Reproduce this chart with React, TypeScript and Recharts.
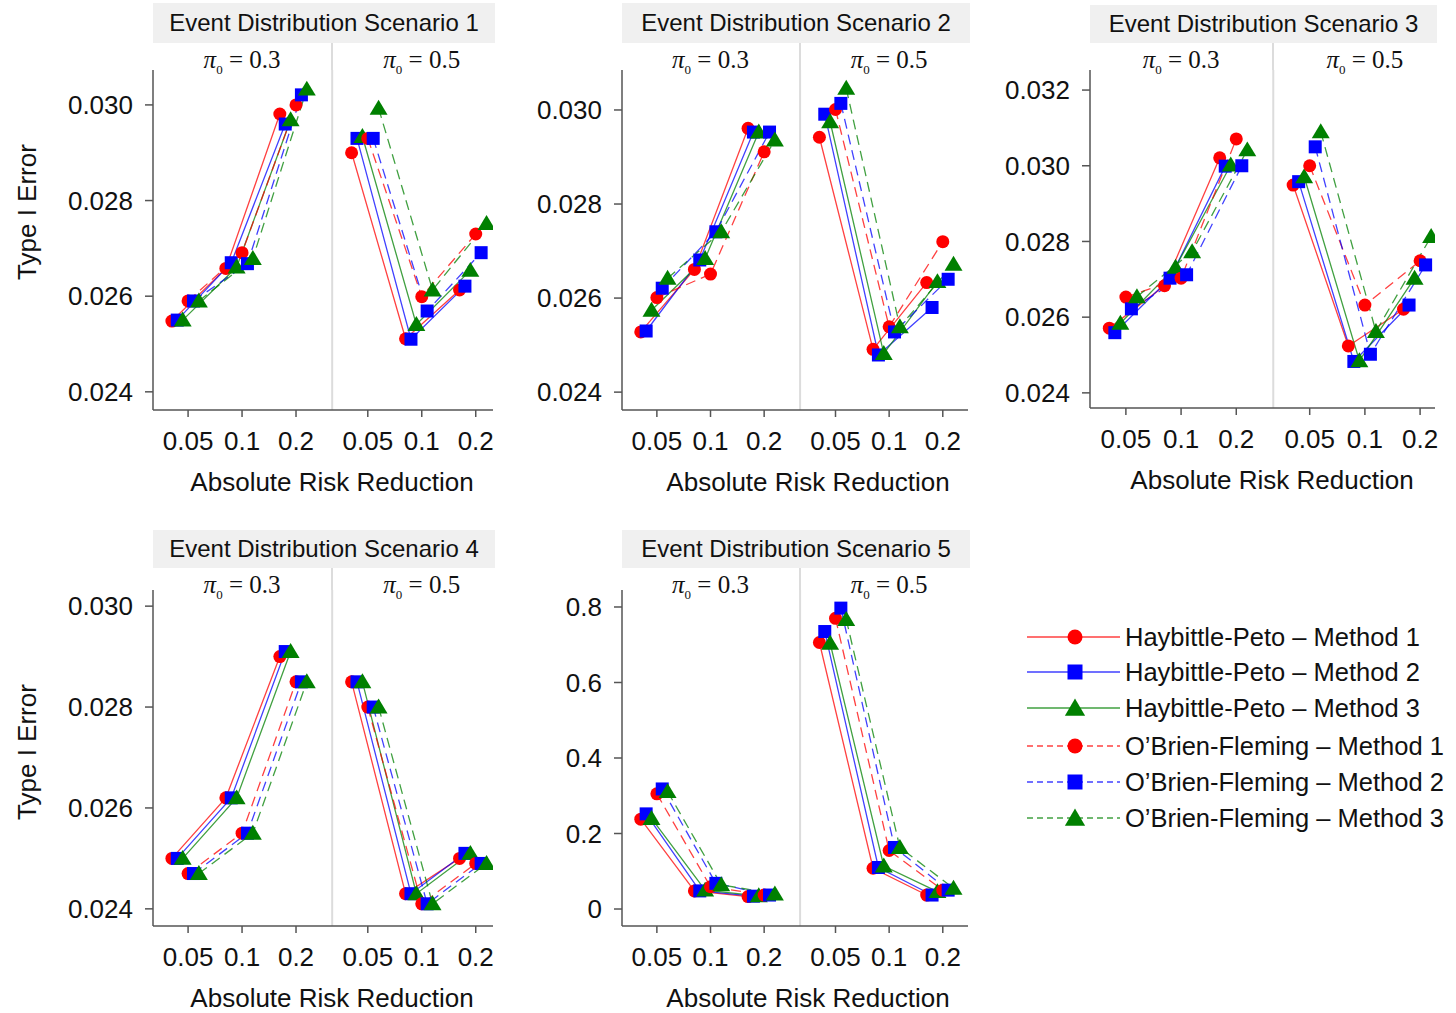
import React from 'react';
import { LineChart, Line, XAxis, YAxis, ReferenceLine } from 'recharts';

// absolute risk reduction tick labels, repeated for pi0 = 0.3 and pi0 = 0.5
const ARR_LABELS = ['0.05', '0.1', '0.2'];
const PI0_LABELS = ['0.3', '0.5'];
const SCENARIO_TITLES = [
  'Event Distribution Scenario 1',
  'Event Distribution Scenario 2',
  'Event Distribution Scenario 3',
  'Event Distribution Scenario 4',
  'Event Distribution Scenario 5',
];

const SERIES = [
  { name: 'Haybittle-Peto \u2013 Method 1', color: '#ff0000', dashed: false, shape: 'circle' },
  { name: 'Haybittle-Peto \u2013 Method 2', color: '#0000ff', dashed: false, shape: 'square' },
  { name: 'Haybittle-Peto \u2013 Method 3', color: '#008000', dashed: false, shape: 'triangle' },
  { name: 'O\u2019Brien-Fleming \u2013 Method 1', color: '#ff0000', dashed: true, shape: 'circle' },
  { name: 'O\u2019Brien-Fleming \u2013 Method 2', color: '#0000ff', dashed: true, shape: 'square' },
  { name: 'O\u2019Brien-Fleming \u2013 Method 3', color: '#008000', dashed: true, shape: 'triangle' },
];

// each row = one series: [pi0=0.3: 0.05, 0.1, 0.2, pi0=0.5: 0.05, 0.1, 0.2]
const scenario1 = [
  [0.02548, 0.02658, 0.02981, 0.02900, 0.02511, 0.02613],
  [0.02550, 0.02670, 0.02960, 0.02930, 0.02510, 0.02621],
  [0.02550, 0.02661, 0.02969, 0.02934, 0.02541, 0.02654],
  [0.02590, 0.02691, 0.03000, 0.02930, 0.02599, 0.02730],
  [0.02590, 0.02668, 0.03021, 0.02930, 0.02569, 0.02691],
  [0.02590, 0.02679, 0.03033, 0.02993, 0.02613, 0.02752],
];
const scenario2 = [
  [0.02528, 0.02661, 0.02961, 0.02942, 0.02491, 0.02633],
  [0.02530, 0.02681, 0.02953, 0.02991, 0.02479, 0.02580],
  [0.02574, 0.02684, 0.02953, 0.02975, 0.02482, 0.02635],
  [0.02601, 0.02651, 0.02911, 0.03001, 0.02539, 0.02720],
  [0.02621, 0.02741, 0.02953, 0.03014, 0.02528, 0.02640],
  [0.02642, 0.02741, 0.02936, 0.03046, 0.02539, 0.02672],
];
const scenario3 = [
  [0.02571, 0.02683, 0.03021, 0.02949, 0.02524, 0.02621],
  [0.02559, 0.02703, 0.02999, 0.02958, 0.02483, 0.02632],
  [0.02584, 0.02732, 0.03002, 0.02971, 0.02485, 0.02703],
  [0.02653, 0.02703, 0.03071, 0.03000, 0.02632, 0.02749],
  [0.02622, 0.02712, 0.03000, 0.03050, 0.02502, 0.02738],
  [0.02654, 0.02773, 0.03042, 0.03090, 0.02562, 0.02813],
];
const scenario4 = [
  [0.0250, 0.0262, 0.0290, 0.0285, 0.0243, 0.0250],
  [0.0250, 0.0262, 0.0291, 0.0285, 0.0243, 0.0251],
  [0.0250, 0.0262, 0.0291, 0.0285, 0.0243, 0.0251],
  [0.0247, 0.0255, 0.0285, 0.0280, 0.0241, 0.0249],
  [0.0247, 0.0255, 0.0285, 0.0280, 0.0241, 0.0249],
  [0.0247, 0.0255, 0.0285, 0.0280, 0.0241, 0.0249],
];
const scenario5 = [
  [0.238, 0.048, 0.033, 0.706, 0.108, 0.037],
  [0.252, 0.048, 0.034, 0.735, 0.110, 0.037],
  [0.240, 0.050, 0.035, 0.704, 0.114, 0.046],
  [0.305, 0.059, 0.037, 0.770, 0.155, 0.050],
  [0.318, 0.068, 0.037, 0.797, 0.163, 0.050],
  [0.311, 0.064, 0.040, 0.767, 0.163, 0.055],
];

const ticksSmall = [0.024, 0.026, 0.028, 0.03];
const ticksS3 = [0.024, 0.026, 0.028, 0.03, 0.032];
const ticksS5 = [0, 0.2, 0.4, 0.6, 0.8];

// x positions in "slot" units; the gap between the two pi0 groups holds the divider
const X_TICKS = [0, 1, 2, 3.33, 4.33, 5.33];
const DIVIDER = 2.67;
const X_MIN = -0.65;
const OFFSETS = [-0.3, -0.2, -0.1, 0, 0.1, 0.2];

const YW = 140;
const MT = 14;
const MR = 14;
const XH = 95;
const FONT = '"Liberation Sans", Arial, sans-serif';

const PANELS = [
  { values: scenario1, yTicks: ticksSmall, yDomain: [0.02362, 0.03073], axisX: 153, right: 493, xMax: 5.65, top: 70, bottom: 410, hTop: 3, hBottom: 43, titleX: 332, fmt: 3 },
  { values: scenario2, yTicks: ticksSmall, yDomain: [0.02362, 0.03085], axisX: 622, right: 968, xMax: 5.8, top: 70, bottom: 410, hTop: 3, hBottom: 43, titleX: 808, fmt: 3 },
  { values: scenario3, yTicks: ticksS3, yDomain: [0.0236, 0.03253], axisX: 1090, right: 1435, xMax: 5.6, top: 70, bottom: 408, hTop: 5, hBottom: 43, titleX: 1272, fmt: 3 },
  { values: scenario4, yTicks: ticksSmall, yDomain: [0.02366, 0.03032], axisX: 153, right: 493, xMax: 5.65, top: 590, bottom: 926, hTop: 530, hBottom: 568, titleX: 332, fmt: 3 },
  { values: scenario5, yTicks: ticksS5, yDomain: [-0.045, 0.845], axisX: 622, right: 968, xMax: 5.8, top: 590, bottom: 926, hTop: 530, hBottom: 568, titleX: 808, fmt: 1 },
];

function Marker({ cx, cy, shape, color, r = 6.5 }: any) {
  if (shape === 'circle') return <circle cx={cx} cy={cy} r={r} fill={color} />;
  if (shape === 'square') return <rect x={cx - r} y={cy - r} width={2 * r} height={2 * r} fill={color} />;
  const h = r * 1.15;
  return <polygon points={`${cx},${cy - h - 1} ${cx + h + 1.5},${cy + h - 1} ${cx - h - 1.5},${cy + h - 1}`} fill={color} />;
}

function toPx(p: any, x: number) {
  return p.axisX + ((x - X_MIN) / (p.xMax - X_MIN)) * (p.right - p.axisX);
}

function Panel({ p, idx }: any) {
  const W = YW + (p.right - p.axisX) + MR;
  const H = MT + (p.bottom - p.top) + XH;
  const seriesData = SERIES.map((s, si) => {
    const pts: any[] = [];
    p.values[si].forEach((v: number, i: number) => {
      if (i === 3) pts.push({ x: DIVIDER, y: null });
      pts.push({ x: X_TICKS[i] + OFFSETS[si], y: v });
    });
    return pts;
  });
  const divX = toPx(p, DIVIDER);
  return (
    <>
      <div style={{ position: 'absolute', left: p.axisX, top: p.hTop, width: p.right - p.axisX + 2, height: p.hBottom - p.hTop, background: '#f0f0f0', display: 'flex', alignItems: 'center', justifyContent: 'center', fontSize: 24, color: '#111' }}>
        {SCENARIO_TITLES[idx]}
      </div>
      <div style={{ position: 'absolute', left: divX - 1, top: p.hBottom, width: 2, height: p.top - p.hBottom, background: '#dcdcdc' }} />
      {PI0_LABELS.map((lab, k) => (
        <div key={lab} style={{ position: 'absolute', left: toPx(p, X_TICKS[k * 3 + 1]), top: p.hBottom + 18, transform: 'translate(-50%, -50%)', fontFamily: '"Liberation Serif", "Times New Roman", serif', fontSize: 25, whiteSpace: 'nowrap', color: '#111', lineHeight: 1 }}>
          <i>π</i><sub style={{ fontSize: 13 }}>0</sub>&nbsp;= {lab}
        </div>
      ))}
      <div style={{ position: 'absolute', left: p.axisX - YW, top: p.top - MT }}>
        <LineChart width={W} height={H} margin={{ top: MT, right: MR, bottom: 0, left: 0 }}>
          <XAxis
            type="number"
            dataKey="x"
            domain={[X_MIN, p.xMax]}
            allowDataOverflow
            ticks={X_TICKS}
            interval={0}
            tickFormatter={(v: number) => {
              let best = 0;
              X_TICKS.forEach((t, i) => { if (Math.abs(t - v) < Math.abs(X_TICKS[best] - v)) best = i; });
              return ARR_LABELS[best % 3];
            }}
            height={XH}
            stroke="#555"
            strokeWidth={1.5}
            tickSize={7}
            tickMargin={15}
            tick={{ fontSize: 26, fill: '#111', fontFamily: FONT }}
          />
          <YAxis
            type="number"
            domain={p.yDomain}
            allowDataOverflow
            ticks={p.yTicks}
            interval={0}
            width={YW}
            tickFormatter={(v: number) => (v === 0 ? '0' : v.toFixed(p.fmt))}
            stroke="#555"
            strokeWidth={1.5}
            tickSize={8}
            tickMargin={12}
            tick={{ fontSize: 26, fill: '#111', fontFamily: FONT }}
          />
          <ReferenceLine x={DIVIDER} stroke="#dcdcdc" strokeWidth={2} />
          {SERIES.map((s, si) => (
            <Line
              key={s.name}
              data={seriesData[si]}
              dataKey="y"
              name={s.name}
              type="linear"
              stroke={s.color}
              strokeOpacity={0.75}
              strokeWidth={1.3}
              strokeDasharray={s.dashed ? '10 6' : undefined}
              connectNulls={false}
              isAnimationActive={false}
              dot={(d: any) =>
                d.cy == null || d.payload?.y == null ? (
                  <g key={`n-${si}-${d.index}`} />
                ) : (
                  <Marker key={`m-${si}-${d.index}`} cx={d.cx} cy={d.cy} shape={s.shape} color={s.color} />
                )
              }
              activeDot={false}
            />
          ))}
        </LineChart>
      </div>
      <div style={{ position: 'absolute', left: p.titleX, top: p.bottom + 72, transform: 'translate(-50%, -50%)', fontSize: 26, whiteSpace: 'nowrap', color: '#111', lineHeight: 1 }}>
        Absolute Risk Reduction
      </div>
    </>
  );
}

function LegendBox() {
  const rows = [22, 57, 93, 131, 167, 203];
  return (
    <svg style={{ position: 'absolute', left: 1020, top: 615 }} width={436} height={225}>
      {SERIES.map((s, i) => (
        <g key={s.name}>
          <line x1={7} x2={100} y1={rows[i]} y2={rows[i]} stroke={s.color} strokeOpacity={0.75} strokeWidth={1.3} strokeDasharray={s.dashed ? '6 4' : undefined} />
          <Marker cx={55} cy={rows[i]} shape={s.shape} color={s.color} r={7.5} />
          <text x={105} y={rows[i]} dominantBaseline="central" fontSize={25.5} fontFamily={FONT} fill="#111">
            {s.name}
          </text>
        </g>
      ))}
    </svg>
  );
}

export default function App() {
  return (
    <div style={{ position: 'absolute', left: 0, top: 0, width: 1456, height: 1013, background: '#fff', fontFamily: FONT, overflow: 'hidden' }}>
      {PANELS.map((p, i) => (
        <Panel key={i} p={p} idx={i} />
      ))}
      {[212, 752].map((y) => (
        <div key={y} style={{ position: 'absolute', left: 27, top: y, transform: 'translate(-50%, -50%) rotate(-90deg)', fontSize: 26, whiteSpace: 'nowrap', color: '#111', lineHeight: 1 }}>
          Type I Error
        </div>
      ))}
      <LegendBox />
    </div>
  );
}
